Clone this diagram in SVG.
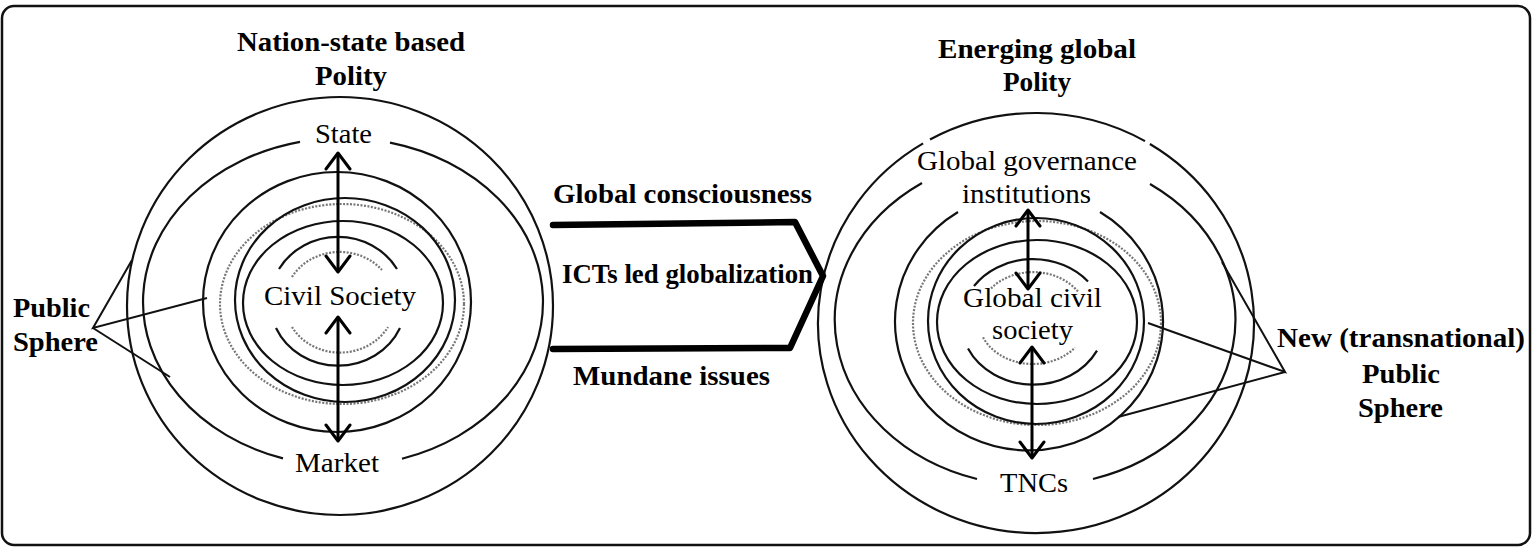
<svg xmlns="http://www.w3.org/2000/svg" width="1535" height="554" viewBox="0 0 1535 554">
<defs>
<style>
.ring{fill:none;stroke:#111;stroke-width:2.2}
.dot{fill:none;stroke:#777;stroke-width:2.2;stroke-dasharray:2 1.5}
.arr{fill:none;stroke:#000;stroke-width:3;marker-start:url(#ah);marker-end:url(#ah)}
.lead{fill:none;stroke:#111;stroke-width:2}
.big{fill:none;stroke:#000;stroke-width:6.5;stroke-linecap:round;stroke-linejoin:round}
.lbl{font-family:"Liberation Serif","Times New Roman",serif;font-size:27px;fill:#000}
.bld{font-family:"Liberation Serif","Times New Roman",serif;font-size:27px;font-weight:bold;fill:#000}
</style>
<marker id="ah" viewBox="-19 -14 21 28" refX="0" refY="0" markerWidth="21" markerHeight="28" markerUnits="userSpaceOnUse" orient="auto-start-reverse">
<path d="M-16,-12 L0,0 L-16,12" fill="none" stroke="#000" stroke-width="3" stroke-linecap="round" stroke-linejoin="round"/>
</marker>
</defs>
<rect width="1535" height="554" fill="#fff"/>
<g id="frame">
<rect x="2" y="6" width="1528" height="539" rx="12" ry="12" fill="none" stroke="#111" stroke-width="2.5"/>
</g>
<g id="left-polity">
<ellipse class="ring" cx="340" cy="306" rx="213" ry="209"/>
<path class="ring" d="M300,141.8 A200,164 0 0 0 283,458.4"/>
<path class="ring" d="M402,458.7 A200,164 0 0 0 390,142.6"/>
<ellipse class="ring" cx="337" cy="302" rx="134" ry="130"/>
<ellipse class="dot" cx="342" cy="304" rx="122" ry="100"/>
<ellipse class="ring" cx="345" cy="300" rx="110" ry="102"/>
<ellipse class="ring" cx="343" cy="303" rx="100" ry="82"/>
<path class="ring" d="M279,269 A68,64 0 0 1 397,269"/>
<path class="ring" d="M276,328 A68,64 0 0 0 400,328"/>
<path class="dot" d="M292,277 A55,50 0 0 1 382,270"/>
<path class="dot" d="M292,327 A55,50 0 0 0 388,327"/>
<text class="lbl" x="315" y="143" textLength="57" lengthAdjust="spacingAndGlyphs">State</text>
<text class="lbl" x="264" y="305" textLength="152" lengthAdjust="spacingAndGlyphs">Civil Society</text>
<text class="lbl" x="295" y="472" textLength="84" lengthAdjust="spacingAndGlyphs">Market</text>
</g>
<g id="left-title">
<text class="bld" x="237" y="51" textLength="228" lengthAdjust="spacingAndGlyphs">Nation-state based</text>
<text class="bld" x="315" y="85" textLength="72" lengthAdjust="spacingAndGlyphs">Polity</text>
</g>
<g id="right-polity">
<path class="ring" d="M923.1,143.4 A218,210 0 1 0 1149.9,144"/>
<path class="ring" d="M1145,141.1 A218,210 0 0 0 930,139.5"/>
<path class="ring" d="M922,183 A200,166 0 0 0 977,479"/>
<path class="ring" d="M1093,479 A200,166 0 0 0 1150,184"/>
<path class="ring" d="M958,212 A134,129 0 1 0 1100,212"/>
<ellipse class="dot" cx="1037" cy="323" rx="124" ry="102"/>
<ellipse class="ring" cx="1036" cy="321" rx="108" ry="103"/>
<ellipse class="ring" cx="1037" cy="322" rx="100" ry="82"/>
<path class="ring" d="M974,286 A72,63 0 0 1 1088,281.5"/>
<path class="ring" d="M968,348.6 A72,63 0 0 0 1097,350.6"/>
<path class="dot" d="M991,288.4 A55,46 0 0 1 1078,291.6"/>
<path class="dot" d="M983,337.4 A55,46 0 0 0 1075,347.6"/>
<text class="lbl" x="917" y="170" textLength="220" lengthAdjust="spacingAndGlyphs">Global governance</text>
<text class="lbl" x="962" y="203" textLength="129" lengthAdjust="spacingAndGlyphs">institutions</text>
<text class="lbl" x="963" y="307" textLength="139" lengthAdjust="spacingAndGlyphs">Global civil</text>
<text class="lbl" x="992" y="339" textLength="81" lengthAdjust="spacingAndGlyphs">society</text>
<text class="lbl" x="1000" y="492" textLength="68" lengthAdjust="spacingAndGlyphs">TNCs</text>
</g>
<g id="right-title">
<text class="bld" x="938" y="58" textLength="198" lengthAdjust="spacingAndGlyphs">Energing global</text>
<text class="bld" x="1003" y="91" textLength="68" lengthAdjust="spacingAndGlyphs">Polity</text>
</g>
<g id="left-public-sphere">
<text class="bld" x="13" y="317" textLength="77" lengthAdjust="spacingAndGlyphs">Public</text>
<text class="bld" x="13" y="351" textLength="85" lengthAdjust="spacingAndGlyphs">Sphere</text>
</g>
<g id="right-public-sphere">
<text class="bld" x="1277" y="347" textLength="248" lengthAdjust="spacingAndGlyphs">New (transnational)</text>
<text class="bld" x="1362" y="383" textLength="78" lengthAdjust="spacingAndGlyphs">Public</text>
<text class="bld" x="1358" y="417" textLength="85" lengthAdjust="spacingAndGlyphs">Sphere</text>
</g>
<g id="flow-labels">
<text class="bld" x="553" y="203" textLength="259" lengthAdjust="spacingAndGlyphs">Global consciousness</text>
<text class="bld" x="562" y="283" textLength="251" lengthAdjust="spacingAndGlyphs">ICTs led globalization</text>
<text class="bld" x="573" y="385" textLength="197" lengthAdjust="spacingAndGlyphs">Mundane issues</text>
</g>
<g id="connectors">
<line class="arr" x1="338" y1="272" x2="338" y2="153"/>
<line class="arr" x1="338" y1="317" x2="338" y2="441"/>
<line class="arr" x1="1028" y1="289" x2="1028" y2="210"/>
<line class="arr" x1="1032" y1="347" x2="1032" y2="458"/>
<polyline class="lead" points="132,260 93,328 207,298"/>
<line class="lead" x1="93" y1="328" x2="170" y2="377"/>
<polyline class="lead" points="1222,262 1285,372 1148,323"/>
<line class="lead" x1="1285" y1="372" x2="1118" y2="417"/>
<polyline class="big" points="553,225 795,222 823,276 790,348 553,349"/>
</g>
</svg>
